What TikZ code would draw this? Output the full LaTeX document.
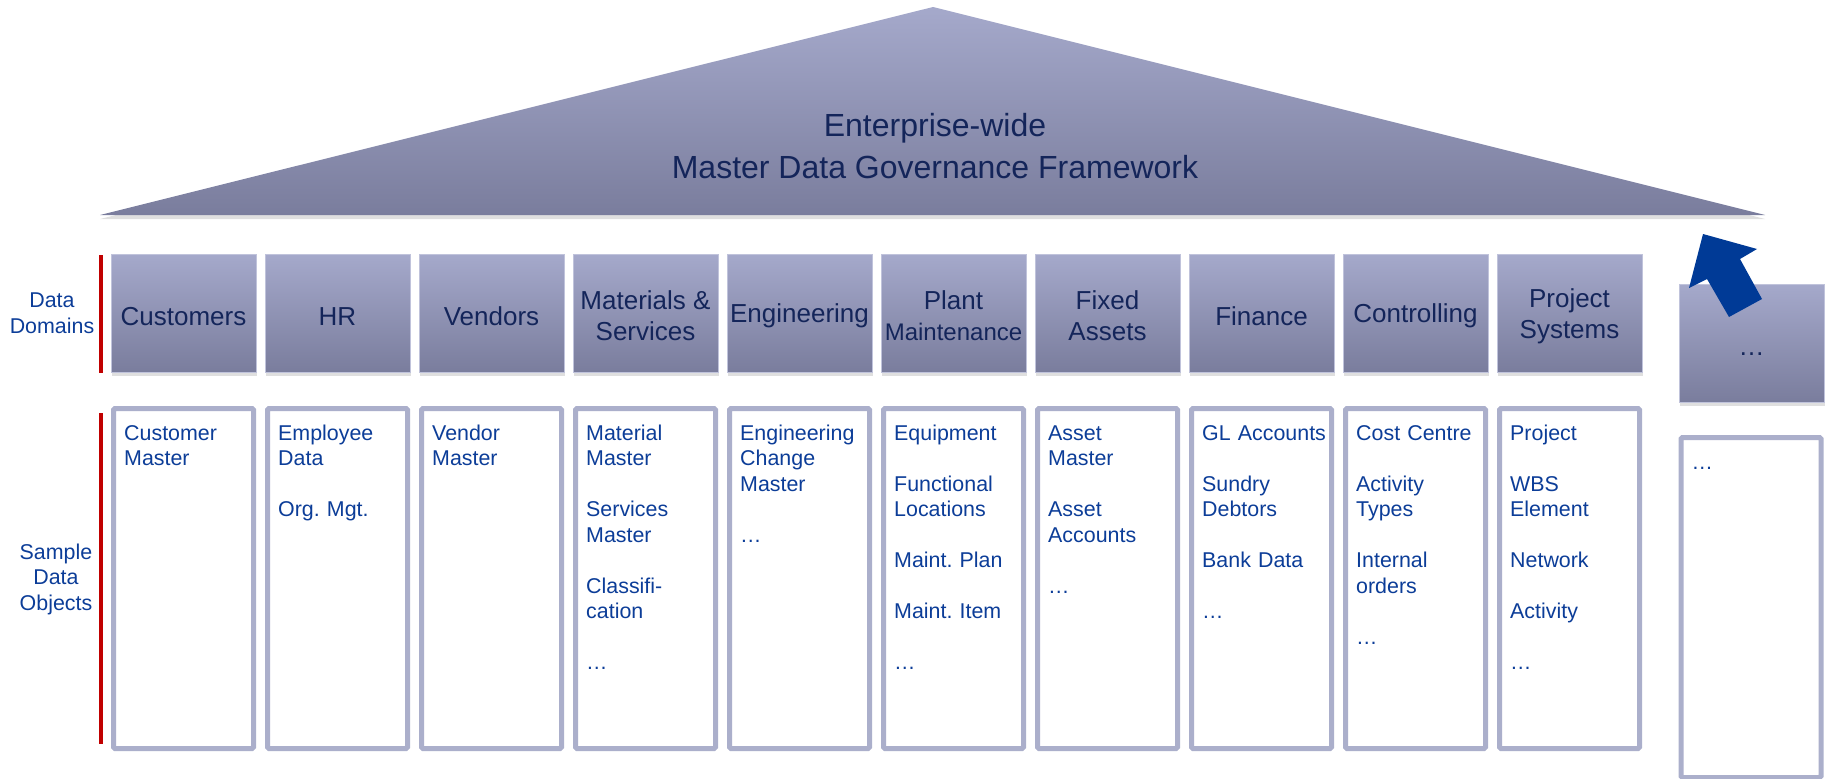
\documentclass[tikz,border=0pt]{standalone}
\usepackage{fontspec}
\setmainfont{Liberation Sans}
\usetikzlibrary{calc,shadows}

\definecolor{roofhi}{HTML}{A5A9CB}
\definecolor{rooflo}{HTML}{7A7D9D}
\definecolor{boxline}{HTML}{ABAFCB}
\definecolor{navy}{HTML}{14255A}
\definecolor{objblue}{HTML}{0C3D98}
\definecolor{sidered}{HTML}{C00000}
\definecolor{arrowblue}{HTML}{003A96}

\newcommand{\domfont}{\fontsize{26}{31}\selectfont}
\newcommand{\domrule}{\rule{0pt}{25pt}}
\newcommand{\objfont}{\fontsize{21.4}{25.5}\selectfont}
\newcommand{\objgap}{\\[25.5pt]}
\frenchspacing

\begin{document}
\begin{tikzpicture}[x=1pt,y=-1pt,
    dombox/.style={rectangle,minimum width=145pt,minimum height=118pt,inner sep=0pt,
      top color=roofhi,bottom color=rooflo,draw=roofhi!70!white,line width=0.6pt,
      drop shadow={opacity=0.25,shadow xshift=1pt,shadow yshift=-4pt},
      text=navy,align=center,font=\domfont},
    objbox/.style={rectangle,draw=boxline,line width=5pt,fill=white,rounded corners=1.5pt,
      minimum width=140pt,minimum height=340pt,inner sep=0pt},
    objtext/.style={anchor=north west,inner sep=0pt,text width=132pt,align=left,
      text=objblue,font=\objfont},
    sidelabel/.style={align=center,text=objblue,font=\objfont}]
  \useasboundingbox (0,0) rectangle (1826,779);

  % roof
  \path[top color=roofhi,bottom color=rooflo,
    drop shadow={opacity=0.25,shadow xshift=0pt,shadow yshift=-4pt}]
    (933,7) -- (1765,215) -- (100,215) -- cycle;
  \node[text=navy,align=center,font=\fontsize{32}{42}\selectfont] (title) at (935,146)
    {Enterprise-wide\\Master Data Governance Framework};

  % side labels
  \node[sidelabel] (lbldom) at (52,313) {Data\\Domains};
  \node[sidelabel] (lblobj) at (56,579) {Sample\\Data\\Objects};
  \draw[sidered,line width=3.5pt] (101,255) -- (101,373);
  \draw[sidered,line width=3.5pt] (101,413) -- (101,744);

  % data domains
  \foreach \i/\dname in {1/Customers,2/HR,3/Vendors,4/{Materials \&\\Services},
      5/Engineering,6/{Plant\\{\fontsize{24}{31}\selectfont Maintenance}},
      7/{Fixed\\Assets},8/Finance,9/Controlling,10/{Project\\Systems}}
    \node[dombox] (dom\i) at ({183.5+154*(\i-1)},313) {\domrule\dname};

  % sample data objects
  \foreach \i/\oname in {1/{Customer\\Master},
      2/{Employee\\Data\objgap Org. Mgt.},
      3/{Vendor\\Master},
      4/{Material\\Master\objgap Services\\Master\objgap Classifi-\\cation\objgap …},
      5/{Engineering\\Change\\Master\objgap …},
      6/{Equipment\objgap Functional\\Locations\objgap Maint. Plan\objgap Maint. Item\objgap …},
      7/{Asset\\Master\objgap Asset\\Accounts\objgap …},
      8/{GL Accounts\objgap Sundry\\Debtors\objgap Bank Data\objgap …},
      9/{Cost Centre\objgap Activity\\Types\objgap Internal\\orders\objgap …},
      10/{Project\objgap WBS\\Element\objgap Network\objgap Activity\objgap …}}{
    \node[objbox] (obj\i) at ({183.5+154*(\i-1)},578.5) {};
    \node[objtext] (objtxt\i) at ($(obj\i.north west)+(13,16)$) {\strut\oname};
  }

  % further domains
  \node[dombox] (domx) at (1751.5,343) {\domrule …};
  \node[objbox] (objx) at (1751,607.5) {};
  \node[objtext] (objtxtx) at ($(objx.north west)+(13,16)$) {\strut …};

  % arrow up to the roof
  \fill[arrowblue] (1703,234) -- (1757,249) -- (1740,259) -- (1762,299)
    -- (1729,317) -- (1707,279) -- (1689,288) -- cycle;
\end{tikzpicture}
\end{document}
